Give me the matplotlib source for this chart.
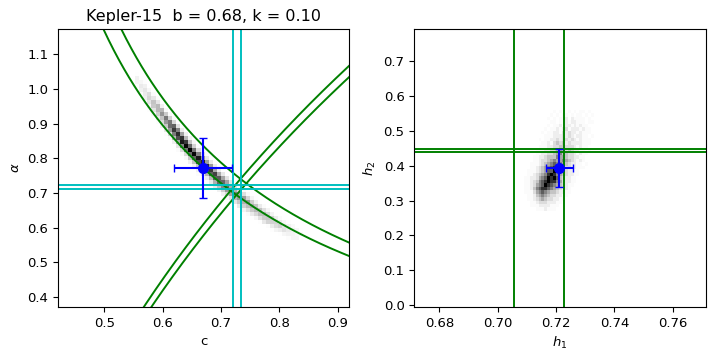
import numpy as np
import matplotlib
matplotlib.use('Agg')
import matplotlib.pyplot as plt
from matplotlib.colors import PowerNorm

title = 'Kepler-15  b = 0.68, k = 0.10'

# posterior sample density in (h1, h2)
# rows from h2 = 0.56 (top) down to h2 = 0.27, columns h1 = 0.709 ... 0.733
h1_range = (0.709, 0.733)
h2_range = (0.27, 0.56)
density_rows = [
    "000000000010100101011010",
    "000000000101011010110101",
    "000000001010112021111010",
    "000000000110112122111011",
    "000000001011212212121100",
    "000000010112123122212110",
    "000000101122132322121110",
    "000000011122232321221101",
    "000001011223233232121110",
    "000000112134342322221110",
    "000001112233443332121100",
    "000011122334543432211010",
    "000011223345644332121100",
    "000112234446554332211000",
    "000112334565565432121000",
    "001112345676654322110100",
    "001123456787643322111000",
    "011123457797543221100000",
    "011234568986543221100000",
    "112235679897432211000000",
    "112346789886532211000000",
    "112356798765432110000000",
    "112467887654322100000000",
    "111356765443221100000000",
    "011245654332211000000000",
    "011234543322110000000000",
    "001123332221100000000000",
    "001112222111000000000000",
    "000011121110000000000000",
]

# fitted values and errors
c_fit, c_err = 0.669, 0.050
alpha_fit, alpha_err = 0.772, 0.086
h1_fit, h1_err = 0.7211, 0.0046
h2_fit, h2_err = 0.394, 0.054

# prior ranges
h1_bounds = [0.7056, 0.7226]
h2_bounds = [0.439, 0.449]
c_bounds = [0.7211, 0.7349]
alpha_bounds = [0.7115, 0.7238]

ncol = len(density_rows[0])
grid = np.array([[int(ch) for ch in row[:ncol]] for row in density_rows[::-1]], float)
h1_edges = np.linspace(h1_range[0], h1_range[1], grid.shape[1] + 1)
h2_edges = np.linspace(h2_range[0], h2_range[1], grid.shape[0] + 1)

# map the (h1, h2) density onto (c, alpha): c = 1 - h1 + h2, alpha = log2(c/h2)
n = 8
off = (np.arange(n) + 0.5) / n
dh1 = h1_edges[1] - h1_edges[0]
dh2 = h2_edges[1] - h2_edges[0]
h1_f = (h1_edges[:-1, None] + off[None, :] * dh1).ravel()
h2_f = (h2_edges[:-1, None] + off[None, :] * dh2).ravel()
H1, H2 = np.meshgrid(h1_f, h2_f)
W = np.kron(grid, np.ones((n, n)))
C = 1 - H1 + H2
A = np.log2(C / H2)
c_edges = np.arange(0.42, 0.93, 0.007)
a_edges = np.arange(0.37, 1.18, 0.0115)
hist, _, _ = np.histogram2d(C.ravel(), A.ravel(), bins=[c_edges, a_edges], weights=W.ravel())

plt.rcParams['font.size'] = 9.5

fig = plt.figure(figsize=(7.2, 3.6), dpi=100)
ax1 = fig.add_axes([0.0806, 0.147, 0.404, 0.772])
ax2 = fig.add_axes([0.5754, 0.147, 0.4047, 0.772])

ax1.pcolormesh(c_edges, a_edges, np.ma.masked_less_equal(hist.T, 0), cmap='gray_r',
               norm=PowerNorm(1.35, vmin=0, vmax=hist.max()))
cc = np.linspace(0.42, 0.92, 400)
for h1 in h1_bounds:
    ax1.plot(cc, np.log2(cc / (cc - 1 + h1)), color='g', lw=1.4)
for h2 in h2_bounds:
    ax1.plot(cc, np.log2(cc / h2), color='g', lw=1.4)
for c in c_bounds:
    ax1.axvline(c, color='c', lw=1.4)
for a in alpha_bounds:
    ax1.axhline(a, color='c', lw=1.4)
ax1.errorbar(c_fit, alpha_fit, xerr=c_err, yerr=alpha_err, fmt='o', color='b',
             ms=7, capsize=3, lw=1.5, zorder=5)
ax1.set_xlim(0.421, 0.919)
ax1.set_ylim(0.371, 1.172)
ax1.set_xlabel('c')
ax1.set_ylabel(r'$\alpha$')
ax1.set_title(title, fontsize=11.5)

ax2.pcolormesh(h1_edges, h2_edges, np.ma.masked_equal(grid, 0), cmap='gray_r',
               norm=PowerNorm(1.8, vmin=0, vmax=9))
for h1 in h1_bounds:
    ax2.axvline(h1, color='g', lw=1.4)
for h2 in h2_bounds:
    ax2.axhline(h2, color='g', lw=1.4)
ax2.errorbar(h1_fit, h2_fit, xerr=h1_err, yerr=h2_err, fmt='o', color='b',
             ms=7, capsize=3, lw=1.5, zorder=5)
ax2.set_xlim(0.6714, 0.7713)
ax2.set_ylim(-0.006, 0.792)
ax2.set_xticks([0.68, 0.70, 0.72, 0.74, 0.76])
ax2.set_xlabel(r'$h_1$')
ax2.set_ylabel(r'$h_2$')

fig.savefig('out.png', dpi=100)
